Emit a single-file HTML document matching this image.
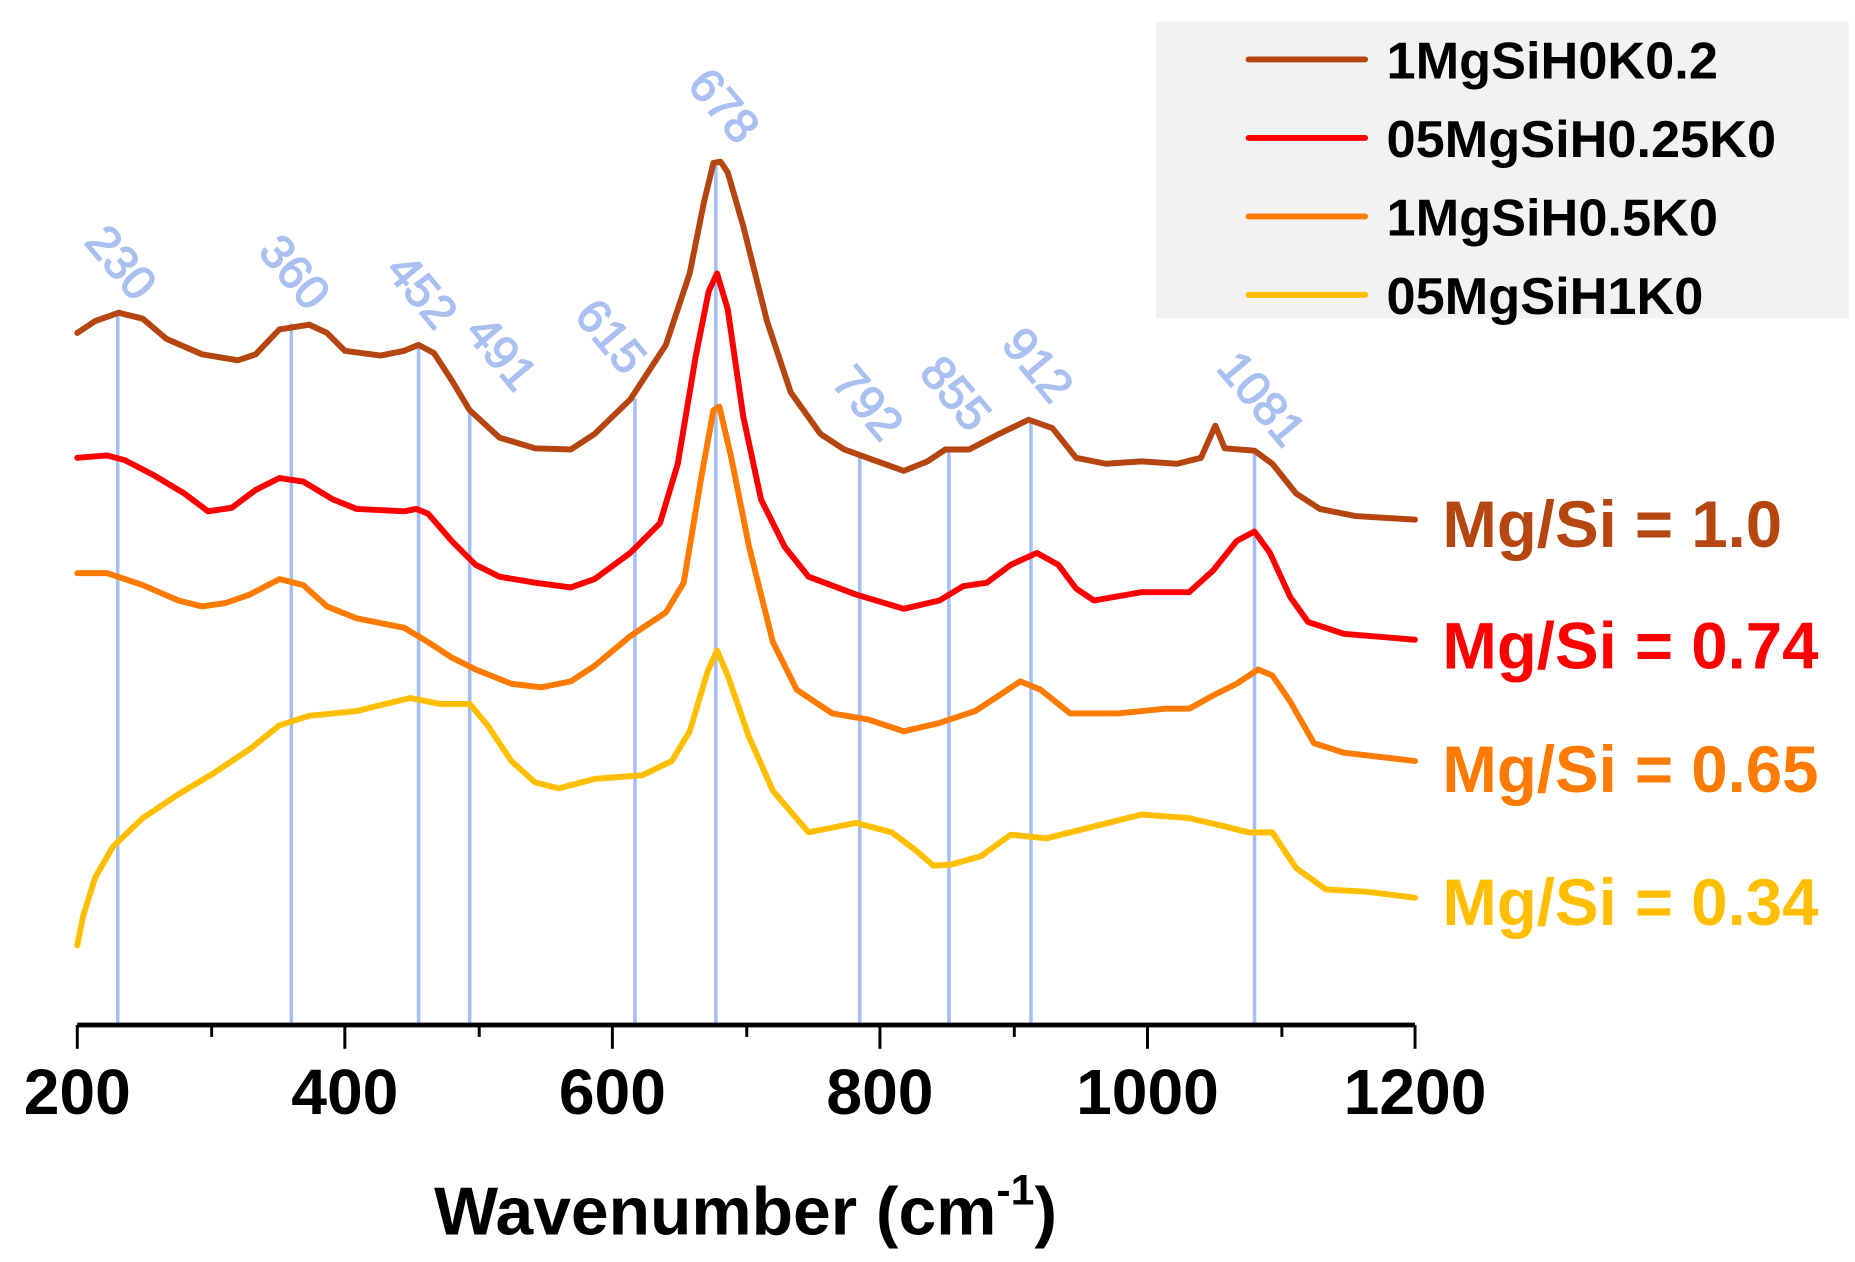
<!DOCTYPE html>
<html><head><meta charset="utf-8"><style>html,body{margin:0;padding:0;background:#fff}svg{display:block}</style></head>
<body>
<svg width="1855" height="1262" viewBox="0 0 1560 1061.3" xmlns="http://www.w3.org/2000/svg" font-family="'Liberation Sans', Arial, sans-serif" font-weight="bold">
<rect x="0" y="0" width="1560" height="1062" fill="#fff"/>
<rect x="972" y="18" width="583" height="250" fill="#f2f2f2"/>
<g stroke="#a4bff5" stroke-width="3">
<line x1="99" y1="263" x2="99" y2="862"/>
<line x1="245" y1="272" x2="245" y2="862"/>
<line x1="352" y1="290" x2="352" y2="862"/>
<line x1="395" y1="345" x2="395" y2="862"/>
<line x1="534" y1="335" x2="534" y2="862"/>
<line x1="602" y1="135" x2="602" y2="862"/>
<line x1="723" y1="385" x2="723" y2="862"/>
<line x1="798" y1="378" x2="798" y2="862"/>
<line x1="867" y1="353" x2="867" y2="862"/>
<line x1="1055" y1="379" x2="1055" y2="862"/>
</g>
<g fill="#a9c0f0" font-size="40" font-weight="normal" stroke="#a9c0f0" stroke-width="1.2">
<text transform="translate(70,204) rotate(50)">230</text>
<text transform="translate(216,212) rotate(50)">360</text>
<text transform="translate(323,228) rotate(50)">452</text>
<text transform="translate(390,280) rotate(50)">491</text>
<text transform="translate(482,266) rotate(50)">615</text>
<text transform="translate(577,72) rotate(50)">678</text>
<text transform="translate(698,322) rotate(50)">792</text>
<text transform="translate(772,314) rotate(50)">855</text>
<text transform="translate(841,290) rotate(50)">912</text>
<text transform="translate(1022,310) rotate(50)">1081</text>
</g>
<g fill="none" stroke-width="5" stroke-linejoin="round" stroke-linecap="round">
<polyline stroke="#b5460f" points="65,280 80,270 100,263 120,268 140,285 170,298 200,303 215,298 235,277 260,273 275,280 290,295 320,299 340,295 352,290 365,297 380,320 395,345 420,368 450,377 480,378 500,365 530,336 560,290 580,230 592,170 600,137 606,136 612,145 625,190 645,270 665,330 690,365 710,378 735,387 760,396 780,388 795,378 815,378 840,365 865,353 885,360 905,385 930,390 960,388 990,390 1010,385 1022,358 1030,377 1055,379 1070,390 1090,415 1110,428 1140,434 1190,437"/>
<polyline stroke="#ff0000" points="65,385 90,383 105,387 130,400 155,415 175,430 195,427 215,412 235,402 255,405 280,420 300,428 340,430 350,428 360,432 380,455 400,475 420,485 450,490 480,494 500,487 530,465 555,440 570,390 585,300 596,245 603,230 612,260 625,350 640,420 660,460 680,485 720,500 760,512 790,505 810,493 830,490 850,475 872,465 890,475 905,495 920,505 960,498 1000,498 1020,480 1040,455 1055,447 1068,465 1085,502 1100,523 1130,533 1190,538"/>
<polyline stroke="#ff7a00" points="65,482 90,482 120,492 150,505 170,510 190,507 210,500 235,487 255,492 275,510 300,520 340,528 360,540 380,553 400,563 430,575 455,578 480,573 500,560 530,535 560,515 575,490 590,400 600,345 605,342 615,385 630,460 650,540 670,580 700,600 730,605 760,615 790,608 820,598 840,585 858,573 875,580 900,600 940,600 980,596 1000,596 1020,585 1040,575 1058,563 1070,568 1085,590 1105,625 1130,633 1190,640"/>
<polyline stroke="#ffbf00" points="65,795 70,770 80,738 95,712 120,688 150,668 180,650 210,630 235,610 260,602 300,598 320,593 345,587 370,592 395,592 410,610 430,640 450,658 470,663 500,655 540,652 565,640 580,615 595,565 603,547 612,568 630,620 650,665 680,700 720,692 750,700 770,715 785,728 800,727 825,720 850,702 880,705 920,695 960,685 1000,688 1030,695 1050,700 1070,700 1090,730 1115,748 1150,750 1190,755"/>
</g>
<g stroke="#000">
<line x1="65" y1="862" x2="1190" y2="862" stroke-width="4"/>
<g stroke-width="2.5">
<line x1="65" y1="862" x2="65" y2="882"/><line x1="290" y1="862" x2="290" y2="882"/>
<line x1="515" y1="862" x2="515" y2="882"/><line x1="740" y1="862" x2="740" y2="882"/>
<line x1="965" y1="862" x2="965" y2="882"/><line x1="1190" y1="862" x2="1190" y2="882"/>
<line x1="178" y1="862" x2="178" y2="872"/><line x1="403" y1="862" x2="403" y2="872"/>
<line x1="628" y1="862" x2="628" y2="872"/><line x1="853" y1="862" x2="853" y2="872"/>
<line x1="1078" y1="862" x2="1078" y2="872"/>
</g></g>
<g font-size="54" text-anchor="middle" fill="#000">
<text x="65" y="937">200</text><text x="290" y="937">400</text><text x="515" y="937">600</text>
<text x="740" y="937">800</text><text x="965" y="937">1000</text><text x="1190" y="937">1200</text>
</g>
<text x="627" y="1038" font-size="57" text-anchor="middle">Wavenumber (cm<tspan font-size="36" dy="-25">-1</tspan><tspan dy="25">)</tspan></text>
<g stroke-width="5" stroke-linecap="round">
<line x1="1050" y1="50" x2="1148" y2="50" stroke="#b5460f"/>
<line x1="1050" y1="116" x2="1148" y2="116" stroke="#ff0000"/>
<line x1="1050" y1="182" x2="1148" y2="182" stroke="#ff7a00"/>
<line x1="1050" y1="248" x2="1148" y2="248" stroke="#ffbf00"/>
</g>
<g font-size="44" fill="#000">
<text x="1166" y="66">1MgSiH0K0.2</text>
<text x="1166" y="132">05MgSiH0.25K0</text>
<text x="1166" y="198">1MgSiH0.5K0</text>
<text x="1166" y="264">05MgSiH1K0</text>
</g>
<g font-size="55">
<text x="1213" y="460" fill="#b5460f">Mg/Si = 1.0</text>
<text x="1213" y="562" fill="#ff0000">Mg/Si = 0.74</text>
<text x="1213" y="666" fill="#ff7a00">Mg/Si = 0.65</text>
<text x="1213" y="778" fill="#ffbf00">Mg/Si = 0.34</text>
</g>
</svg>
</body></html>
